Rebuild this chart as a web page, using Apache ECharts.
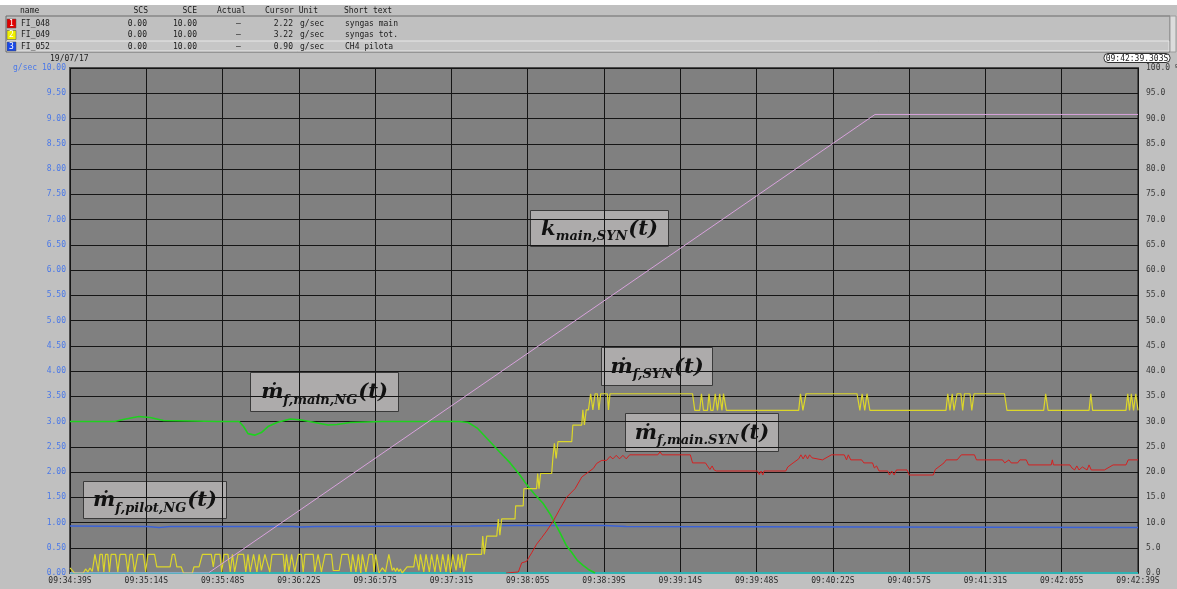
<!DOCTYPE html>
<html>
<head>
<meta charset="utf-8">
<script src="https://cdn.jsdelivr.net/npm/echarts@6/dist/echarts.min.js"></script>
<style>
html,body{margin:0;padding:0;background:#c0c0c0;}
#c{width:1177px;height:589px;}
</style>
</head>
<body>
<div id="c"></div>
<script>
// ---- tick labels ----
const tickLabels = ['09:34:39S','09:35:14S','09:35:48S','09:36:22S','09:36:57S','09:37:31S','09:38:05S','09:38:39S','09:39:14S','09:39:48S','09:40:22S','09:40:57S','09:41:31S','09:42:05S','09:42:39S'];
const totalSeconds = 480; // 09:34:39 -> 09:42:39

// ---- header table ----
const tagNames = ['FI_048','FI_049','FI_052'];
const tagScs = ['0.00','0.00','0.00'];
const tagSce = ['10.00','10.00','10.00'];
const tagCursor = ['2.22','3.22','0.90'];
const tagUnit = ['g/sec','g/sec','g/sec'];
const tagShort = ['syngas main','syngas tot.','CH4 pilota'];

// ---- series: time (s from 09:34:39) and values ----
// yellow: FI_049 syngas total (g/sec)
const synTotT = [0,1,2,6,7,8,9,10,11.2,12,12.7,13.5,14.5,15.2,16,17,17.7,18.5,20.5,21.5,22.5,25,26,27,28,29,30.5,33,34,35,38,39,45,46,47,48,50,51,55,55.7,58,59.5,63.5,64.4,65.2,67.4,68.2,69.2,71,72,73,74,75.5,78,79,80,81,82.5,84,85,86,87.6,89.8,90.8,95.8,96.5,97.3,98.4,99.6,101,102.6,104,104.8,105.6,109.3,110,111.5,113,114.6,117.5,118.3,121,122.2,125,126.3,127,128.5,129.6,130.7,131.4,133,134.4,136,136.6,137.4,138.9,139.6,140.4,141.8,143.3,144.8,145.6,146.3,147,147.8,148.5,149.3,151.5,154.5,155.3,156.8,157.5,159,160,161.5,162.5,164,165,166.5,167.5,169,170,171,172,173.5,174.5,175.3,176,177,178.3,185,185.5,186.2,187.3,191.8,192.5,193.2,194,200,200.3,203.7,204,209.7,210.2,210.8,211.5,216.5,217,217.7,218.5,219.3,225.5,226,230,230.5,231.2,232,233,234,235,236,237,237.7,238.5,241.5,242,242.7,279.8,280.8,283,283.8,284.7,286.5,287.2,288,289,290,291,292,293,293.7,295,327.5,328.3,329.4,330.8,353.7,355,356,357.2,358.2,359.5,393.7,394.5,395.5,396.5,397.3,398.7,400.4,401.2,402,404.5,405.3,406.3,420,421.1,437.6,438.5,439.6,458,458.8,459.6,474.6,475.4,476.2,477,478,479,480];
const synTotV = [0.1,0.05,0,0,0.08,0.02,0.1,0.03,0.37,0.37,0.03,0.37,0.37,0.02,0.37,0.37,0.02,0.37,0.37,0.02,0.37,0.37,0.02,0.37,0.37,0.02,0.37,0.37,0.02,0.37,0.37,0.12,0.12,0.37,0.37,0.12,0.12,0,0,0.12,0.12,0.37,0.37,0.12,0.37,0.37,0.02,0.37,0.37,0.02,0.37,0.02,0.37,0.37,0.02,0.37,0.02,0.37,0.02,0.37,0.05,0.37,0.02,0.37,0.37,0.02,0.37,0.02,0.37,0.02,0.37,0.37,0.02,0.37,0.37,0.02,0.37,0.02,0.37,0.37,0.05,0.05,0.37,0.37,0.02,0.37,0.02,0.37,0,0.37,0.02,0.37,0.37,0.02,0.37,0,0.02,0.1,0.02,0.37,0.05,0.1,0.03,0.1,0.03,0.08,0,0.12,0.12,0.37,0.05,0.37,0.02,0.37,0.02,0.37,0.02,0.37,0.02,0.37,0.02,0.37,0,0.37,0.05,0.37,0.1,0.37,0.02,0.37,0.37,0.73,0.37,0.73,0.73,1.07,0.75,1.07,1.07,1.33,1.33,1.67,1.67,1.97,1.67,1.97,1.97,2.27,2.57,2.27,2.6,2.6,2.93,2.93,3.23,2.93,3.23,3.23,3.55,3.23,3.55,3.55,3.23,3.55,3.55,3.23,3.55,3.55,3.22,3.22,3.55,3.22,3.22,3.55,3.22,3.22,3.55,3.22,3.55,3.22,3.55,3.22,3.22,3.55,3.22,3.55,3.55,3.22,3.55,3.22,3.55,3.22,3.22,3.55,3.22,3.55,3.22,3.55,3.55,3.22,3.55,3.55,3.22,3.55,3.55,3.22,3.22,3.55,3.22,3.22,3.55,3.22,3.22,3.55,3.22,3.55,3.22,3.55,3.22];

// red: FI_048 syngas main (g/sec)
const synMainT = [196,201.5,203,205.2,207.5,209.7,212,214.2,217.2,220.2,223.2,227,230,233,235.2,236.7,239,241.2,242.7,244,245.5,247,248.5,250,251.5,253,264.2,265.2,266.1,278.8,279.8,285.6,287.6,288.6,289.5,290.5,309,309.8,310.6,311.4,311.9,321.7,322.6,325,327.5,328.5,329.5,330.5,331.5,332.4,333.5,338.2,342.2,348,349,349.8,350.9,355.8,356.8,360.7,361.5,362.5,363.6,367.5,368.3,369.3,370.4,371.4,376.2,377.2,388,388.9,392.8,393.8,398.7,400.6,406.5,407.4,419.1,420.1,422,423,425.9,426.9,429.8,430.8,441,441.5,442,449.4,450.3,451.5,452.5,453.5,455,457.1,458,459,464.9,468.8,474.6,475.6,480];
const synMainV = [0,0.02,0.2,0.23,0.4,0.57,0.7,0.83,1.03,1.27,1.5,1.67,1.9,2.0,2.07,2.17,2.23,2.23,2.31,2.26,2.33,2.26,2.33,2.26,2.34,2.34,2.34,2.4,2.34,2.34,2.18,2.18,2.05,2.12,2.04,2.02,2.02,1.95,2.02,1.94,2.02,2.02,2.1,2.18,2.26,2.34,2.26,2.34,2.26,2.34,2.28,2.24,2.34,2.34,2.24,2.34,2.24,2.24,2.18,2.18,2.08,2.12,2.02,2.02,1.94,2.02,1.94,2.04,2.04,1.94,1.94,2.05,2.18,2.24,2.24,2.34,2.34,2.24,2.24,2.18,2.24,2.18,2.18,2.24,2.24,2.14,2.14,2.24,2.14,2.14,2.08,2.04,2.12,2.04,2.1,2.04,2.14,2.04,2.04,2.14,2.14,2.24,2.24];

// green: natural gas main (g/sec)
const ngMainT = [0,20,25,31,36,42,55,66,76,78,80,83,86,89,93,99,104,110,116,120,126,140,175,179,183,188.8,193,197.8,202,205.4,209,212.6,216,220.2,223,225.6,228,230.6,233,236];
const ngMainV = [3.0,3.0,3.05,3.1,3.08,3.02,3.01,3.0,3.0,2.9,2.76,2.73,2.78,2.9,2.98,3.05,3.03,2.98,2.93,2.94,2.98,3.0,3.0,2.98,2.87,2.6,2.4,2.18,1.95,1.74,1.55,1.38,1.15,0.8,0.55,0.4,0.25,0.15,0.07,0];

// blue: FI_052 CH4 pilota (g/sec)
const ngPilotT = [0,35,40,45,100,104,110,180,200,240,250,360,480];
const ngPilotV = [0.93,0.92,0.9,0.92,0.92,0.91,0.92,0.93,0.94,0.94,0.92,0.91,0.9];

// cyan: zero-flow trace (g/sec)
const zeroT = [0,480];
const zeroV = [0,0];

// pink: k_main,SYN (%) on right axis
const kMainT = [0,62.2,361.8,480];
const kMainV = [0,0,90.8,90.8];

function zip(t, v){ return t.map((x,i)=>[x, v[i]]); }

const mono = 'DejaVu Sans Mono';
const chart = echarts.init(document.getElementById('c'), null, {renderer:'canvas'});

function annot(x, y, w, h, main, sub){
  return {
    type:'group', left:x, top:y, z:100,
    children:[
      {type:'rect', shape:{x:0,y:0,width:w,height:h}, style:{fill:'#adabab', stroke:'#3a3a3a', lineWidth:1}},
      {type:'text', x:w/2, y:h/2+1, style:{
        text:'{m|'+main+'}{s|'+sub+'}{m|(}{t|t}{m|)}',
        align:'center', verticalAlign:'middle',
        rich:{
          m:{fontFamily:'DejaVu Serif', fontStyle:'italic', fontWeight:'bold', fontSize:21, fill:'#111', lineHeight:28, verticalAlign:'middle'},
          t:{fontFamily:'DejaVu Serif', fontStyle:'italic', fontWeight:'bold', fontSize:21, fill:'#111', lineHeight:28, verticalAlign:'middle'},
          s:{fontFamily:'DejaVu Serif', fontStyle:'italic', fontWeight:'bold', fontSize:13, fill:'#111', lineHeight:28, verticalAlign:'bottom', padding:[8,1,0,0]}
        }
      }}
    ]
  };
}

const rowColors = ['#e00000','#f0f000','#1848e8'];
const rowTextColors = ['#ffffff','#ffffff','#ffffff'];
const headerEls = [];
headerEls.push({type:'rect', shape:{x:0,y:0,width:1177,height:5}, style:{fill:'#ffffff'}});
headerEls.push({type:'rect', shape:{x:6,y:16,width:1164,height:36}, style:{fill:'#c0c0c0', stroke:'#6a6a6a', lineWidth:1}});
headerEls.push({type:'rect', shape:{x:7,y:41,width:1162,height:10}, style:{fill:'#c6c6c6', stroke:'#e8e8e8', lineWidth:1}});
headerEls.push({type:'rect', shape:{x:1170,y:16,width:6,height:36}, style:{fill:'#dcdcdc', stroke:'#9a9a9a', lineWidth:1}});
const hdrFont = {fontFamily:mono, fontSize:8, fill:'#202020'};
const hdr = [['name',20,'left'],['SCS',148,'right'],['SCE',197,'right'],['Actual',217,'left'],['Cursor Unit',265,'left'],['Short text',344,'left']];
hdr.forEach(h=>headerEls.push({type:'text', x:h[1], y:11, style:Object.assign({text:h[0], align:h[2], verticalAlign:'middle'}, hdrFont)}));
tagNames.forEach((n,i)=>{
  const cy = 23.5 + i*11.5;
  headerEls.push({type:'rect', shape:{x:7,y:cy-4.5,width:9,height:9}, style:{fill:rowColors[i], stroke:'#505050', lineWidth:0.5}});
  headerEls.push({type:'text', x:11.5, y:cy, style:Object.assign({text:String(i+1), align:'center', verticalAlign:'middle'}, hdrFont, {fill:rowTextColors[i]})});
  headerEls.push({type:'text', x:21, y:cy, style:Object.assign({text:n, align:'left', verticalAlign:'middle'}, hdrFont)});
  headerEls.push({type:'text', x:147, y:cy, style:Object.assign({text:tagScs[i], align:'right', verticalAlign:'middle'}, hdrFont)});
  headerEls.push({type:'text', x:197, y:cy, style:Object.assign({text:tagSce[i], align:'right', verticalAlign:'middle'}, hdrFont)});
  headerEls.push({type:'text', x:238.5, y:cy, style:Object.assign({text:'–', align:'center', verticalAlign:'middle'}, hdrFont)});
  headerEls.push({type:'text', x:293, y:cy, style:Object.assign({text:tagCursor[i], align:'right', verticalAlign:'middle'}, hdrFont)});
  headerEls.push({type:'text', x:300, y:cy, style:Object.assign({text:tagUnit[i], align:'left', verticalAlign:'middle'}, hdrFont)});
  headerEls.push({type:'text', x:345, y:cy, style:Object.assign({text:tagShort[i], align:'left', verticalAlign:'middle'}, hdrFont)});
});
headerEls.push({type:'text', x:50, y:59, style:Object.assign({text:'19/07/17', align:'left', verticalAlign:'middle'}, hdrFont)});
headerEls.push({type:'rect', shape:{x:1104,y:53.5,width:66,height:9,r:4}, style:{fill:'#ffffff', stroke:'#303030', lineWidth:1}});
headerEls.push({type:'text', x:1137, y:58.5, style:Object.assign({text:'09:42:39.303S', align:'center', verticalAlign:'middle'}, hdrFont)});

const graphics = headerEls.map(e=>Object.assign({z:50}, e)).concat([
  annot(530, 210, 138, 36, 'k', 'main,SYN'),
  annot(250, 372, 148, 39, 'ṁ', 'f,main,NG'),
  annot(83, 481, 143, 37, 'ṁ', 'f,pilot,NG'),
  annot(601, 347, 111, 38, 'ṁ', 'f,SYN'),
  annot(625, 413, 153, 38, 'ṁ', 'f,main.SYN')
]);

const lineBase = {type:'line', showSymbol:false, symbol:'none', animation:false, smooth:false};
const option = {
  backgroundColor:'#c0c0c0',
  animation:false,
  grid:{left:70, right:39, top:68, bottom:16, containLabel:false, outerBoundsMode:'none', show:true, backgroundColor:'#808080', borderColor:'#4a4a4a', borderWidth:2},
  xAxis:{
    type:'value', min:0, max:totalSeconds, interval:totalSeconds/14,
    axisLine:{show:false}, axisTick:{show:false},
    splitLine:{show:true, lineStyle:{color:'#151515', width:1}},
    axisLabel:{margin:4, fontFamily:mono, fontSize:8, color:'#2a2a2a',
      formatter:v=>tickLabels[Math.round(v/(totalSeconds/14))] || ''}
  },
  yAxis:[
    {type:'value', min:0, max:10, interval:0.5, position:'left',
     axisLine:{show:false}, axisTick:{show:false},
     splitLine:{show:true, lineStyle:{color:'#151515', width:1}},
     axisLabel:{margin:4, fontFamily:mono, fontSize:8, color:'#4a78e8',
       formatter:v=> v===10 ? 'g/sec 10.00' : v.toFixed(2)}},
    {type:'value', min:0, max:100, interval:5, position:'right',
     axisLine:{show:false}, axisTick:{show:false}, splitLine:{show:false},
     axisLabel:{margin:8, fontFamily:mono, fontSize:8, color:'#3a3a3a', overflow:'none', hideOverlap:false,
       formatter:v=> v===100 ? '100.0 %' : v.toFixed(1)}}
  ],
  series:[
    Object.assign({}, lineBase, {name:'zero', yAxisIndex:0, data:zip(zeroT,zeroV), lineStyle:{color:'#2fb3b3', width:2}, z:2}),
    Object.assign({}, lineBase, {name:'ngPilot', yAxisIndex:0, data:zip(ngPilotT,ngPilotV), lineStyle:{color:'#3a62d8', width:1.6}, z:3}),
    Object.assign({}, lineBase, {name:'ngMain', yAxisIndex:0, data:zip(ngMainT,ngMainV), lineStyle:{color:'#1fd01f', width:1.6}, z:4}),
    Object.assign({}, lineBase, {name:'synMain', yAxisIndex:0, data:zip(synMainT,synMainV), lineStyle:{color:'#d42020', width:1}, z:5}),
    Object.assign({}, lineBase, {name:'synTot', yAxisIndex:0, data:zip(synTotT,synTotV), lineStyle:{color:'#dcd62a', width:1.2}, z:6}),
    Object.assign({}, lineBase, {name:'kMain', yAxisIndex:1, data:zip(kMainT,kMainV), lineStyle:{color:'#d8a2dc', width:1}, z:7})
  ],
  graphic:graphics
};
chart.setOption(option);
</script>
</body>
</html>
